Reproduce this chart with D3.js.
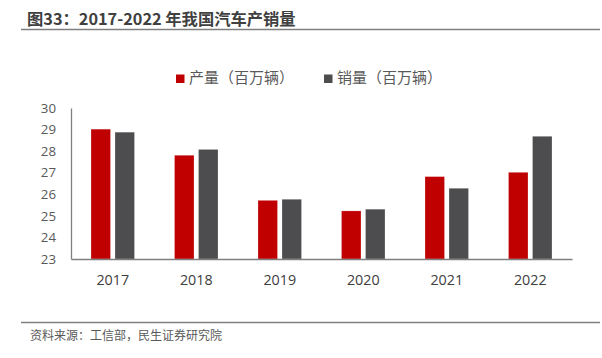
<!DOCTYPE html>
<html><head><meta charset="utf-8">
<script src="https://cdn.jsdelivr.net/npm/d3@7"></script>
<style>body{margin:0;background:#fff;}svg{display:block;font-family:"Noto Sans CJK SC","Noto Sans",sans-serif;}</style>
</head><body>
<svg id="c" width="602" height="358"></svg>
<script>
const years = ["2017","2018","2019","2020","2021","2022"];
const production = [29.02, 27.81, 25.72, 25.23, 26.82, 27.02];
const sales = [28.88, 28.08, 25.77, 25.31, 26.28, 28.69];
const seriesNames = ["产量（百万辆）","销量（百万辆）"];
const yTicks = [23,24,25,26,27,28,29,30];
const colors = ["#C00000","#4D4D4F"];

const svg = d3.select("#c");
const pLeft = 71, pRight = 572, pTop = 108, pBottom = 259;

// title
svg.append("text").attr("x",27).attr("y",25).attr("font-size",16.3).attr("font-weight","bold")
  .attr("fill","#404040").text("图33：2017-2022 年我国汽车产销量");
svg.append("line").attr("x1",21).attr("x2",600).attr("y1",29.5).attr("y2",29.5)
  .attr("stroke","#7f7f7f").attr("stroke-width",1.5);

// legend
const lg = [{x:176,name:seriesNames[0],c:colors[0]},{x:324,name:seriesNames[1],c:colors[1]}];
lg.forEach(d=>{
  svg.append("rect").attr("x",d.x).attr("y",74.5).attr("width",8.5).attr("height",8.5).attr("fill",d.c);
  svg.append("text").attr("x",d.x+13).attr("y",82.5).attr("font-size",15).attr("fill","#595959").text(d.name);
});

const x0 = d3.scaleBand().domain(years).range([pLeft,pRight]);
const y = d3.scaleLinear().domain([23,30]).range([pBottom,pTop]);

const data = years.map((yr,i)=>({yr, vals:[production[i], sales[i]]}));
const bw = 19.5, gap = 4.5;
const g = svg.append("g");
data.forEach(d=>{
  d.vals.forEach((v,j)=>{
    const cx = x0(d.yr) + x0.bandwidth()/2;
    const bx = j===0 ? cx - gap/2 - bw : cx + gap/2;
    g.append("rect").attr("x",bx).attr("y",y(v)).attr("width",bw).attr("height",y(23)-y(v))
      .attr("fill",colors[j]).attr("stroke","#fff").attr("stroke-opacity",0.4).attr("stroke-width",0.6);
  });
});

// y axis
const ya = svg.append("g").attr("transform",`translate(${pLeft},0)`)
  .call(d3.axisLeft(y).tickValues(yTicks).tickFormat(d3.format("d")).tickSize(0).tickPadding(15));
ya.select(".domain").attr("stroke","#7f7f7f").attr("stroke-width",1.3);
ya.selectAll("text").attr("font-size",13.3).attr("fill","#595959").attr("font-family","'Open Sans','Noto Sans',sans-serif");

// x axis
const xa = svg.append("g").attr("transform",`translate(0,${pBottom})`)
  .call(d3.axisBottom(x0).tickSize(0).tickPadding(16));
xa.select(".domain").attr("stroke","#7f7f7f").attr("stroke-width",1.3);
xa.selectAll("text").attr("font-size",14.3).attr("fill","#404040").attr("font-family","'Open Sans','Noto Sans',sans-serif");

// footer
svg.append("line").attr("x1",21).attr("x2",600).attr("y1",322.5).attr("y2",322.5)
  .attr("stroke","#7f7f7f").attr("stroke-width",1.5);
svg.append("text").attr("x",30).attr("y",340).attr("font-size",12).attr("fill","#595959")
  .text("资料来源：工信部，民生证券研究院");
</script>
</body></html>
